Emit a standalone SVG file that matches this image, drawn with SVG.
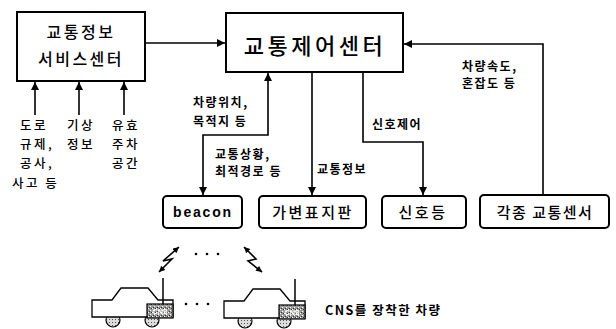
<svg xmlns="http://www.w3.org/2000/svg" width="616" height="329" viewBox="0 0 616 329">
  <defs>
    <marker id="arr" viewBox="0 0 10 10" refX="10" refY="5" markerWidth="9" markerHeight="8" markerUnits="userSpaceOnUse" orient="auto-start-reverse">
      <path d="M0,0 L10,5 L0,10 Z" fill="#000"/>
    </marker>
    <marker id="bolt" viewBox="0 0 10 10" refX="10" refY="5" markerWidth="7" markerHeight="6" markerUnits="userSpaceOnUse" orient="auto-start-reverse">
      <path d="M0,0 L10,5 L0,10 Z" fill="#000"/>
    </marker>
    <pattern id="grain" width="4" height="4" patternUnits="userSpaceOnUse">
      <rect width="4" height="4" fill="#9a9a9a"/>
      <rect x="0" y="0" width="1" height="1" fill="#fff"/>
      <rect x="2" y="2" width="1" height="1" fill="#fff"/>
      <rect x="3" y="0" width="1" height="1" fill="#333"/>
      <rect x="1" y="3" width="1" height="1" fill="#333"/>
    </pattern>
    <pattern id="tyre" width="3" height="3" patternUnits="userSpaceOnUse">
      <rect width="3" height="3" fill="#ddd"/>
      <rect x="1" y="1" width="1" height="1" fill="#555"/>
    </pattern>
    <g id="car">
      <circle cx="113" cy="320" r="7" fill="url(#tyre)" stroke="#000" stroke-width="1.2"/>
      <circle cx="152" cy="320" r="7" fill="url(#tyre)" stroke="#000" stroke-width="1.2"/>
      <path d="M92,300 L112,300 L121,288 L148,288 L158,300 L173,300 L173,317 L92,317 Z" fill="#fff" stroke="#000" stroke-width="1.3"/>
      <line x1="163" y1="278" x2="163" y2="304" stroke="#000" stroke-width="1.5"/>
      <rect x="147" y="304" width="26" height="14" fill="url(#grain)" stroke="#000" stroke-width="1.2"/>
      <text x="160" y="314" class="cns">CNS</text>
    </g>
  </defs>
  <style>
    .box { fill: #fff; stroke: #000; stroke-width: 2; }
    .rbox { fill: #fff; stroke: #000; stroke-width: 2; }
    .wire { fill: none; stroke: #000; stroke-width: 1.6; }
    .kr { font-family: "Noto Sans CJK KR", "Noto Sans", sans-serif; fill: #000; }
    .big { font-size: 22px; letter-spacing: 3.5px; text-anchor: middle; font-weight: 500; }
    .mid { font-size: 16px; letter-spacing: 2.5px; text-anchor: middle; font-weight: 500; }
    .node { font-size: 15px; letter-spacing: 2.5px; text-anchor: middle; font-weight: 500; }
    .lab { font-size: 12px; letter-spacing: 1.5px; font-weight: bold; }
    .src { font-size: 12.5px; letter-spacing: 2.5px; font-weight: 500; }
    .cns { font-family: "Liberation Sans", sans-serif; font-size: 7px; font-weight: bold; fill: #fff; text-anchor: middle; }
  </style>

  <!-- connectors -->
  <g id="connectors">
    <line class="wire" x1="145" y1="43" x2="225" y2="43" marker-end="url(#arr)"/>
    <line class="wire" x1="35" y1="115" x2="35" y2="82" marker-end="url(#arr)"/>
    <line class="wire" x1="79" y1="115" x2="79" y2="82" marker-end="url(#arr)"/>
    <line class="wire" x1="124" y1="115" x2="124" y2="82" marker-end="url(#arr)"/>
    <polyline class="wire" points="268,73 268,135 203,135 203,195" marker-start="url(#arr)" marker-end="url(#arr)"/>
    <line class="wire" x1="312" y1="72" x2="312" y2="195" marker-end="url(#arr)"/>
    <polyline class="wire" points="363,72 363,142 423,142 423,195" marker-end="url(#arr)"/>
    <polyline class="wire" points="543,195 543,44 404,44" marker-end="url(#arr)"/>
  </g>

  <!-- connector labels -->
  <g id="labels" class="kr">
    <text class="lab" x="193" y="107">차량위치,</text>
    <text class="lab" x="193" y="126">목적지 등</text>
    <text class="lab" x="215" y="159">교통상황,</text>
    <text class="lab" x="215" y="176">최적경로 등</text>
    <text class="lab" x="317" y="174">교통정보</text>
    <text class="lab" x="372" y="129">신호제어</text>
    <text class="lab" x="462" y="71">차량속도,</text>
    <text class="lab" x="462" y="88">혼잡도 등</text>
  </g>

  <!-- information sources -->
  <g id="sources" class="kr src">
    <text x="20" y="130">도로</text>
    <text x="20" y="149">규제,</text>
    <text x="20" y="168">공사,</text>
    <text x="12" y="188">사고 등</text>
    <text x="67" y="130">기상</text>
    <text x="67" y="149">정보</text>
    <text x="112" y="130">유효</text>
    <text x="112" y="149">주차</text>
    <text x="112" y="168">공간</text>
  </g>

  <g id="info-service-center">
    <rect class="box" x="17" y="12" width="128" height="69"/>
    <text class="kr mid" x="81" y="38">교통정보</text>
    <text class="kr mid" x="81" y="65">서비스센터</text>
  </g>

  <g id="traffic-control-center">
    <rect class="box" x="226" y="13" width="177" height="59"/>
    <text class="kr big" x="315" y="54">교통제어센터</text>
  </g>

  <g id="beacon">
    <rect class="rbox" x="163" y="196" width="79" height="32" rx="4"/>
    <text x="203" y="217" font-family="Liberation Sans, sans-serif" font-size="14" font-weight="bold" letter-spacing="1.8" text-anchor="middle">beacon</text>
  </g>

  <g id="vms">
    <rect class="rbox" x="259" y="196" width="107" height="32" rx="4"/>
    <text class="kr node" x="313" y="218">가변표지판</text>
  </g>

  <g id="signal">
    <rect class="rbox" x="382" y="196" width="84" height="32" rx="4"/>
    <text class="kr node" x="423" y="218">신호등</text>
  </g>

  <g id="sensors">
    <rect class="rbox" x="480" y="195" width="129" height="33" rx="4"/>
    <text class="kr node" x="545" y="218" style="letter-spacing:1.5px">각종 교통센서</text>
  </g>

  <!-- vehicles fitted with CNS -->
  <g id="vehicles">
    <use href="#car"/>
    <use href="#car" transform="translate(132,1)"/>
    <polyline class="wire" stroke-width="1.4" points="179,247 163,261 172,259 159,272" marker-start="url(#bolt)" marker-end="url(#bolt)"/>
    <polyline class="wire" stroke-width="1.4" points="244,247 256,259 248,261 262,272" marker-start="url(#bolt)" marker-end="url(#bolt)"/>
    <g fill="#000">
      <circle cx="196" cy="254" r="1.3"/>
      <circle cx="207" cy="254" r="1.3"/>
      <circle cx="218" cy="254" r="1.3"/>
      <circle cx="186" cy="304" r="1.3"/>
      <circle cx="197" cy="304" r="1.3"/>
      <circle cx="208" cy="304" r="1.3"/>
    </g>
    <text class="kr" x="325" y="315" font-size="12.5" font-weight="bold" letter-spacing="1.5">CNS를 장착한 차량</text>
  </g>
</svg>
